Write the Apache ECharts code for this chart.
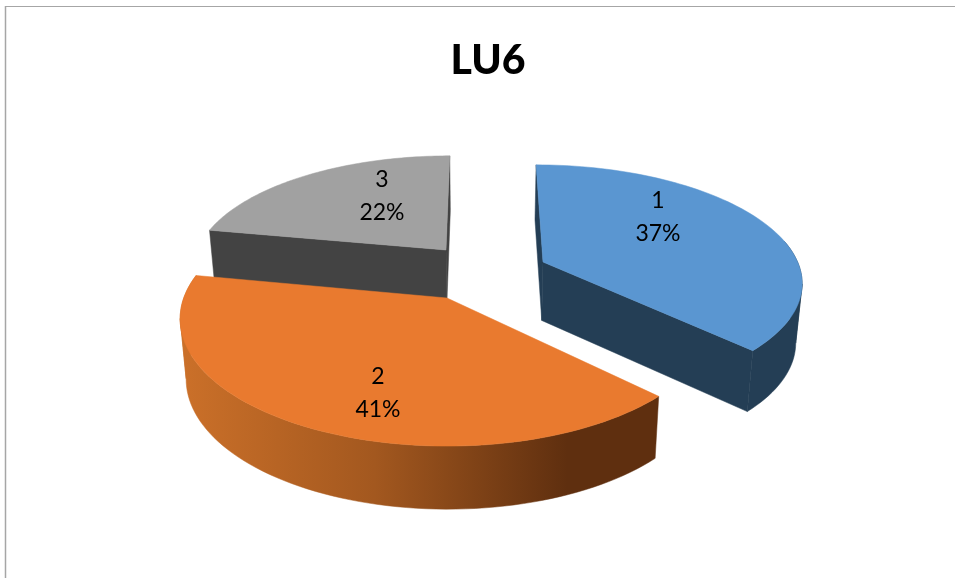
<!DOCTYPE html>
<html><head><meta charset="utf-8">
<style>html,body{margin:0;padding:0;background:#fff}#c{width:955px;height:578px}</style>
<script src="https://cdn.jsdelivr.net/npm/echarts@6/dist/echarts.min.js"></script>
</head><body><div id="c"></div>
<script>
const titleText = 'LU6';
const categories = ['1', '2', '3'];
const shares = [37.4, 40.6, 22];
const topColors = ['#5a96d1', '#e97a2f', '#a1a1a1'];
const faceColors = ['#243e55', '#8a4a1c', '#434343'];

// Projection of the tilted pie
const Y0 = 280, BR = 118, T = 0.16, DEPTH = 59, WALL_X = 480, WALL_K = 0.98;
const radii = [261, 257, 259];
const vanishX = [492, 447, 474];
// Where each exploded slice's apex lands on the screen
const apexes = [[543, 262], [447, 298], [446, 250]];
const labelAt = [[658, 217], [378, 393], [382, 196]];
const total = shares.reduce((a, b) => a + b, 0);
const drawOrder = [2, 0, 1];
const orangeWall = new echarts.graphic.LinearGradient(181, 0, 664, 0, [
  { offset: 0, color: '#cb7029' }, { offset: 0.4, color: '#a3581f' },
  { offset: 0.8, color: '#5f2f0f' }, { offset: 1, color: '#5f2f0f' }
], true);

function groundFromScreen(p, x0) {
  const d = (Y0 - p[1]) / BR;
  const u = d / (1 - T * d);
  const s = 1 / (1 + T * u);
  return [(p[0] - x0) / s, u];
}
function project(gx, u, down, x0) {
  const s = 1 / (1 + T * u);
  const x = x0 + gx * s;
  return [down ? WALL_X + (x - WALL_X) * WALL_K : x,
          Y0 - BR * u * s + (down ? DEPTH * (1 - 0.06 * u) : 0)];
}
const toPoly = (points, fill) => ({ type: 'polygon', shape: { points }, style: { fill, stroke: fill, lineWidth: 0.5 } });

function renderItem(params, api) {
  const idx = api.value(0);
  const before = shares.slice(0, idx).reduce((a, b) => a + b, 0);
  const a0 = before / total * 2 * Math.PI;
  const a1 = (before + api.value(1)) / total * 2 * Math.PI;
  const x0 = vanishX[idx], R = radii[idx];
  const g = groundFromScreen(apexes[idx], x0);
  const pt = (theta, r, down) =>
    project(g[0] + r * R * Math.sin(theta), g[1] + r * Math.cos(theta), down, x0);
  const N = 80, arc = [];
  for (let i = 0; i <= N; i++) arc.push(a0 + (a1 - a0) * i / N);
  const children = [];
  const wallFill = idx === 1 ? orangeWall : faceColors[idx];
  const front = arc.filter(a => Math.cos(a) < 0.2);
  if (front.length > 1) {
    // split the wall at its outermost point so the silhouette edge is straight
    const apexX = apexes[idx][0];
    let k = 0;
    front.forEach((a, i) => {
      if (Math.abs(pt(a, 1)[0] - apexX) > Math.abs(pt(front[k], 1)[0] - apexX)) k = i;
    });
    [front.slice(0, k + 1), front.slice(k)].forEach(part => {
      if (part.length < 2) return;
      const points = part.map(a => pt(a, 1)).concat(part.map(a => pt(a, 1, true)).reverse());
      children.push(toPoly(points, wallFill));
    });
  }
  [a0, a1].forEach(a => {
    if (idx === 1) return;
    children.push(toPoly([pt(a, 0), pt(a, 1), pt(a, 1, true), pt(a, 0, true)], faceColors[idx]));
  });
  const topFace = [pt(a0, 0)].concat(arc.map(a => pt(a, 1)));
  children.push(toPoly(topFace, topColors[idx]));
  children.push({
    type: 'text',
    style: {
      x: labelAt[idx][0], y: labelAt[idx][1],
      text: categories[idx] + '\n' + Math.round(api.value(1) / total * 100) + '%',
      fill: '#000', font: '23px Lato', lineHeight: 33, align: 'center', verticalAlign: 'middle'
    }
  });
  return { type: 'group', children };
}

const chart = echarts.init(document.getElementById('c'), null, { renderer: 'canvas' });
chart.setOption({
  animation: false,
  backgroundColor: '#fff',
  title: {
    text: titleText, left: 483, top: 35, textAlign: 'center',
    textStyle: { fontFamily: 'Lato', fontWeight: 900, fontSize: 41, color: '#000' }
  },
  graphic: [
    { type: 'line', shape: { x1: 5, y1: 6.5, x2: 955, y2: 6.5 }, style: { stroke: '#a6a6a6', lineWidth: 1 } },
    { type: 'line', shape: { x1: 5.5, y1: 6, x2: 5.5, y2: 578 }, style: { stroke: '#a6a6a6', lineWidth: 1.5 } }
  ],
  series: [{
    type: 'custom',
    coordinateSystem: 'none',
    renderItem,
    data: drawOrder.map(i => [i, shares[i]])
  }]
});
</script></body></html>
